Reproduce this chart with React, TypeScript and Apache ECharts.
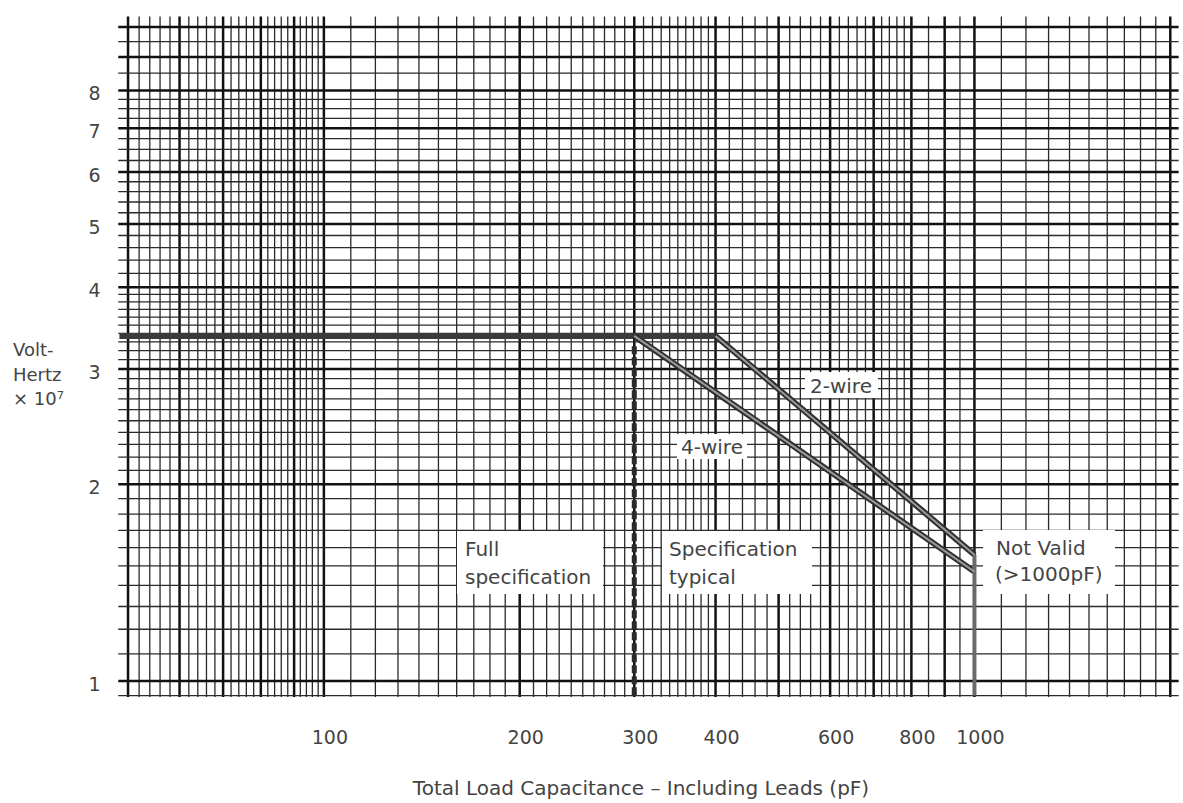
import React, { useEffect, useRef } from 'react';
import * as echarts from 'echarts';

// ---- axis extents (log-log paper) ----
const X_MIN = 48;
const X_MAX = 2070;
const Y_MIN = 0.94;
const Y_MAX = 10.45;

// ---- paper grid definition: [from, to, step] ----
const xGridRanges: number[][] = [
  [50, 100, 2],
  [100, 400, 10],
  [400, 800, 20],
  [800, 1000, 50],
  [1000, 2000, 100],
];
const yGridRanges: number[][] = [
  [1, 4, 0.1],
  [4, 6, 0.2],
  [6, 8, 0.25],
  [8, 10, 0.5],
];
const yExtraLines = [0.95];
const xMajorLines = [50, 60, 70, 80, 90, 100, 200, 300, 400, 500, 600, 700, 800, 900, 1000, 2000];
const yMajorLines = [1, 2, 3, 4, 5, 6, 7, 8, 9, 10];

// ---- tick labels ----
const xTickLabels = [100, 200, 300, 400, 600, 800, 1000];
const yTickLabels = [1, 2, 3, 4, 5, 6, 7, 8];

// ---- data (capacitance pF, Volt-Hertz x 1e7) ----
const ceilingX = [48.5, 400];
const ceilingY = [3.37, 3.37];
const fourWireX = [300, 1000];
const fourWireY = [3.37, 1.47];
const twoWireX = [400, 1000];
const twoWireY = [3.37, 1.56];
const limitX = [1000, 1000];
const limitY = [1.56, 0.95];
const specBoundaryX = [300, 300];
const specBoundaryY = [3.25, 0.95];

const FONT = '"DejaVu Sans", "Liberation Sans", sans-serif';
const TEXT_COLOR = '#444444';

function expandRanges(ranges: number[][]): number[] {
  const out: number[] = [];
  ranges.forEach(([from, to, step]) => {
    const n = Math.round((to - from) / step);
    for (let k = 0; k <= n; k++) {
      const v = +(from + k * step).toFixed(4);
      if (!out.includes(v)) out.push(v);
    }
  });
  return out;
}

const zip = (xs: number[], ys: number[]) => xs.map((x, i) => [x, ys[i]]);

const txt = (text: string, x: number, y: number, size = 20, align = 'left') => ({
  type: 'text',
  z: 101,
  style: { text, x, y, align, verticalAlign: 'middle', font: `${size}px ${FONT}`, fill: TEXT_COLOR },
});
const box = (x: number, y: number, width: number, height: number) => ({
  type: 'rect',
  z: 100,
  shape: { x, y, width, height },
  style: { fill: '#ffffff' },
});

export default function App() {
  const ref = useRef<HTMLDivElement>(null);

  useEffect(() => {
    if (!ref.current) return;
    const chart = echarts.init(ref.current, undefined, { renderer: 'svg' });

    const xLines = expandRanges(xGridRanges);
    const yLines = [...yExtraLines, ...expandRanges(yGridRanges)];

    const vGrid = xLines.map((v) => [v, 1, xMajorLines.includes(v) ? 1 : 0]);
    const hGrid = yLines.map((v) => [100, v, yMajorLines.includes(v) ? 1 : 0]);

    const option: any = {
      animation: false,
      backgroundColor: '#ffffff',
      grid: { left: 116.5, right: 3, top: 14.5, bottom: 104.4, containLabel: false },
      xAxis: { type: 'log', logBase: 10, min: X_MIN, max: X_MAX, show: false },
      yAxis: { type: 'log', logBase: 10, min: Y_MIN, max: Y_MAX, show: false },
      series: [
        // vertical paper lines
        {
          type: 'custom',
          silent: true,
          z: 1,
          data: vGrid,
          encode: { x: 0, y: 1 },
          renderItem: (_p: any, api: any) => {
            const v = api.value(0);
            const major = api.value(2);
            const a = api.coord([v, 0.945]);
            const b = api.coord([v, 10.38]);
            return {
              type: 'line',
              shape: { x1: a[0], y1: a[1], x2: b[0], y2: b[1] },
              style: { stroke: major ? '#111' : '#2a2a2a', lineWidth: major ? 2.5 : 1.3 },
            };
          },
        },
        // horizontal paper lines
        {
          type: 'custom',
          silent: true,
          z: 1,
          data: hGrid,
          encode: { x: 0, y: 1 },
          renderItem: (_p: any, api: any) => {
            const v = api.value(1);
            const major = api.value(2);
            const a = api.coord([48.3, v]);
            const b = api.coord([2060, v]);
            return {
              type: 'line',
              shape: { x1: a[0], y1: a[1], x2: b[0], y2: b[1] },
              style: { stroke: major ? '#111' : '#2a2a2a', lineWidth: major ? 2.5 : 1.3 },
            };
          },
        },
        // x tick labels
        {
          type: 'custom',
          silent: true,
          z: 10,
          data: xTickLabels.map((v) => [v, Y_MIN]),
          encode: { x: 0, y: 1 },
          renderItem: (_p: any, api: any) => {
            const v = api.value(0);
            const p = api.coord([v, Y_MIN]);
            return {
              type: 'text',
              style: {
                text: String(v),
                x: p[0] + 6,
                y: p[1] + 38,
                align: 'center',
                verticalAlign: 'middle',
                font: `19px ${FONT}`,
                fill: TEXT_COLOR,
              },
            };
          },
        },
        // y tick labels
        {
          type: 'custom',
          silent: true,
          z: 10,
          data: yTickLabels.map((v) => [X_MIN, v]),
          encode: { x: 0, y: 1 },
          renderItem: (_p: any, api: any) => {
            const v = api.value(1);
            const p = api.coord([X_MIN, v]);
            return {
              type: 'text',
              style: {
                text: String(v),
                x: p[0] - 16,
                y: p[1] + 3,
                align: 'right',
                verticalAlign: 'middle',
                font: `19px ${FONT}`,
                fill: TEXT_COLOR,
              },
            };
          },
        },
        // full-spec boundary (dashed)
        {
          type: 'line',
          data: zip(specBoundaryX, specBoundaryY),
          symbol: 'none',
          z: 4,
          lineStyle: { color: '#2a2a2a', width: 5, type: [8, 3] },
        },
        // ceiling
        {
          type: 'line',
          data: zip(ceilingX, ceilingY),
          symbol: 'none',
          z: 5,
          lineStyle: { color: '#3a3a3a', width: 6 },
        },
        // 4-wire outline + core
        {
          type: 'line',
          data: zip(fourWireX, fourWireY),
          symbol: 'none',
          z: 5,
          lineStyle: { color: '#2f2f2f', width: 6 },
        },
        {
          type: 'line',
          data: zip(fourWireX, fourWireY),
          symbol: 'none',
          z: 6,
          lineStyle: { color: '#9a9a9a', width: 2 },
        },
        // 2-wire outline + core
        {
          type: 'line',
          data: zip(twoWireX, twoWireY),
          symbol: 'none',
          z: 5,
          lineStyle: { color: '#2f2f2f', width: 6 },
        },
        {
          type: 'line',
          data: zip(twoWireX, twoWireY),
          symbol: 'none',
          z: 6,
          lineStyle: { color: '#9a9a9a', width: 2 },
        },
        // 1000 pF limit
        {
          type: 'line',
          data: zip(limitX, limitY),
          symbol: 'none',
          z: 5,
          lineStyle: { color: '#6a6a6a', width: 4 },
        },
      ],
      graphic: [
        box(805, 372, 73, 26),
        txt('2-wire', 810, 386),
        box(677, 434, 70, 25),
        txt('4-wire', 681, 447),
        box(457, 531, 146, 63),
        txt('Full', 465, 549),
        txt('specification', 465, 577),
        box(662, 531, 150, 63),
        txt('Specification', 669, 549),
        txt('typical', 669, 577),
        box(983, 530, 132, 64),
        txt('Not Valid', 996, 548),
        txt('(>1000pF)', 995, 574),
        // y-axis name
        txt('Volt-', 13, 349, 18),
        txt('Hertz', 13, 374, 18),
        txt('× 10⁷', 13, 398, 18),
        // x-axis name
        txt('Total Load Capacitance – Including Leads (pF)', 641, 788, 20, 'center'),
      ],
    };

    chart.setOption(option);
    return () => chart.dispose();
  }, []);

  return (
    <div
      ref={ref}
      style={{ position: 'absolute', left: 0, top: 0, width: 1183, height: 803, background: '#fff' }}
    />
  );
}
